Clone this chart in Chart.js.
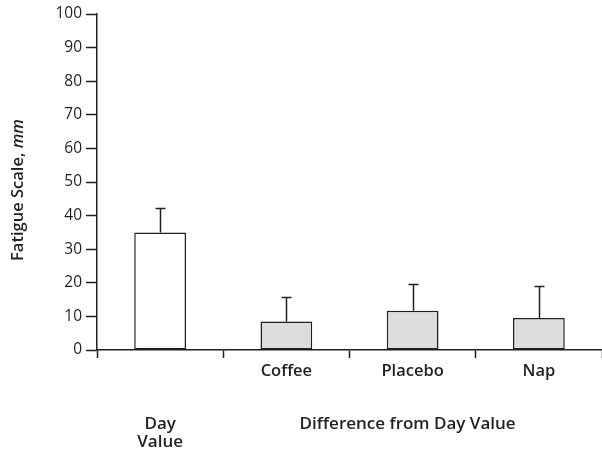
<!DOCTYPE html>
<html>
<head>
<meta charset="utf-8">
<script src="https://cdn.jsdelivr.net/npm/chart.js@4"></script>
<style>
  html, body { margin: 0; padding: 0; background: #fff; }
  #wrap { width: 602px; height: 453px; }
</style>
</head>
<body>
<div id="wrap"><canvas id="chart" width="602" height="453"></canvas></div>
<script>
// Dữ liệu biểu đồ
const categories = ['', 'Coffee', 'Placebo', 'Nap'];
const meanValues = [35, 8.5, 11.7, 9.5];
const errorUpper = [42.2, 15.8, 19.7, 18.9];
const barColors = ['#ffffff', '#dcdddf', '#dcdddf', '#dcdddf'];
const yTicks = [0, 10, 20, 30, 40, 50, 60, 70, 80, 90, 100];

const FONT = "'Open Sans', 'DejaVu Sans', sans-serif";
const INK = '#231f20';

// Vẽ thanh sai số + các nhãn phụ
const extrasPlugin = {
    id: 'extras',
    afterDatasetsDraw(chart) {
        const ctx = chart.ctx;
        const x = chart.scales.x;
        const y = chart.scales.y;
        ctx.save();
        ctx.strokeStyle = INK;
        ctx.lineWidth = 1.5;
        meanValues.forEach((v, i) => {
            const cx = Math.round(x.getPixelForValue(i)) + 0.5;
            const y0 = y.getPixelForValue(v);
            const y1 = Math.round(y.getPixelForValue(errorUpper[i])) + 0.5;
            ctx.beginPath();
            ctx.moveTo(cx, y0);
            ctx.lineTo(cx, y1);
            ctx.moveTo(cx - 5, y1);
            ctx.lineTo(cx + 5, y1);
            ctx.stroke();
        });

        // Nhãn dưới trục x
        ctx.fillStyle = INK;
        ctx.font = `600 17px ${FONT}`;
        ctx.textAlign = 'center';
        ctx.textBaseline = 'middle';
        const dx = x.getPixelForValue(0);
        ctx.fillText('Day', dx, 424);
        ctx.fillText('Value', dx, 442);
        ctx.fillText('Difference from Day Value', x.getPixelForValue(2) - 5, 424);

        // Tiêu đề trục y (mm in nghiêng)
        ctx.translate(18, 190);
        ctx.rotate(-Math.PI / 2);
        ctx.textAlign = 'left';
        const part1 = 'Fatigue Scale, ';
        const part2 = 'mm';
        ctx.font = `600 16.5px ${FONT}`;
        const w1 = ctx.measureText(part1).width;
        ctx.font = `italic 600 16.5px ${FONT}`;
        const w2 = ctx.measureText(part2).width;
        const start = -(w1 + w2) / 2;
        ctx.font = `600 16.5px ${FONT}`;
        ctx.fillText(part1, start, 0);
        ctx.font = `italic 600 16.5px ${FONT}`;
        ctx.fillText(part2, start + w1, 0);
        ctx.restore();
    }
};

new Chart(document.getElementById('chart'), {
    type: 'bar',
    data: {
        labels: categories,
        datasets: [{
            data: meanValues,
            backgroundColor: barColors,
            borderColor: INK,
            borderWidth: 1.5,
            borderSkipped: false,
            barPercentage: 0.41,
            categoryPercentage: 1
        }]
    },
    options: {
        responsive: false,
        animation: false,
        devicePixelRatio: 1,
        layout: { padding: { left: 0, right: 0, top: 14, bottom: 0 } },
        plugins: { legend: { display: false }, tooltip: { enabled: false } },
        scales: {
            x: {
                offset: true,
                grid: {
                    offset: true,
                    drawOnChartArea: false,
                    drawTicks: true,
                    tickLength: 8,
                    tickWidth: 1.5,
                    tickColor: INK
                },
                border: { display: true, color: INK, width: 1.5 },
                ticks: {
                    color: INK,
                    padding: 3,
                    font: { family: FONT, size: 16.5, weight: '600' }
                },
                afterFit(scale) { scale.height = 103; }
            },
            y: {
                min: 0,
                max: 100,
                afterBuildTicks(scale) { scale.ticks = yTicks.map(v => ({ value: v })); },
                grid: {
                    drawOnChartArea: false,
                    drawTicks: true,
                    tickLength: 11,
                    tickWidth: 1.5,
                    tickColor: INK
                },
                border: { display: true, color: INK, width: 1.5 },
                ticks: {
                    color: INK,
                    padding: 4,
                    font: { family: FONT, size: 15.5 }
                },
                afterFit(scale) { scale.width = 97; }
            }
        }
    },
    plugins: [extrasPlugin]
});
</script>
</body>
</html>
